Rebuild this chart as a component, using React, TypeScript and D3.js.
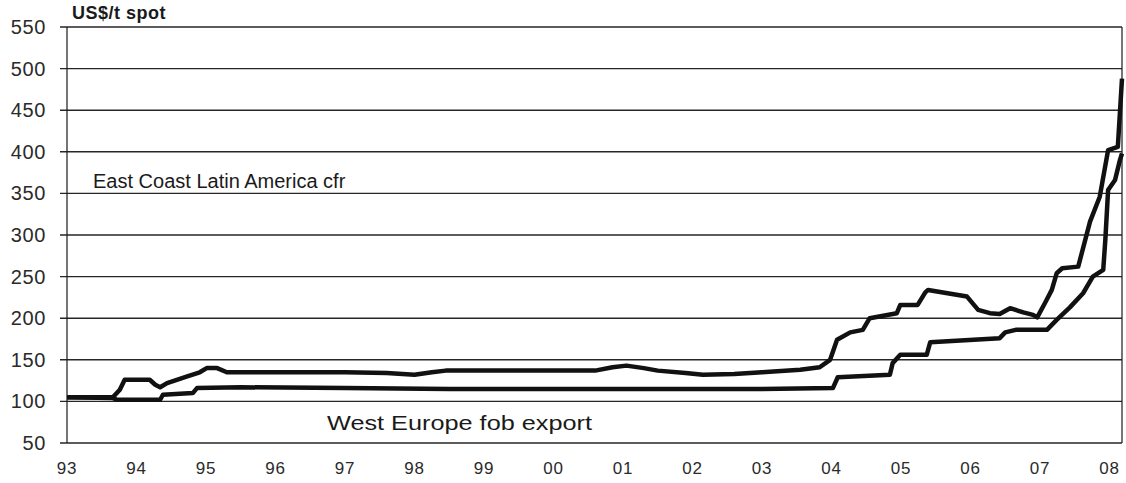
import React from "react";
import * as d3 from "d3";

// year fractions and US$/t values
const eastYears = [
  1993.0, 1993.66, 1993.76, 1993.83, 1994.19, 1994.27, 1994.34, 1994.44, 1994.58, 1994.73,
  1994.91, 1995.01, 1995.16, 1995.3, 1996.0, 1997.0, 1997.6, 1998.0, 1998.25, 1998.45,
  1999.0, 2000.0, 2000.6, 2000.85, 2001.05, 2001.3, 2001.5, 2001.9, 2002.15, 2002.6,
  2003.0, 2003.55, 2003.83, 2003.98, 2004.08, 2004.27, 2004.45, 2004.55, 2004.94, 2004.99,
  2005.24, 2005.35, 2005.39, 2005.95, 2006.11, 2006.28, 2006.42, 2006.57, 2006.76, 2006.9,
  2006.96, 2007.07, 2007.17, 2007.24, 2007.32, 2007.55, 2007.72, 2007.86, 2007.98, 2008.12,
  2008.18,
];
const eastValues = [
  105, 105, 114, 126, 126, 120, 117, 122, 126, 130,
  135, 140, 140, 135, 135, 135, 134, 132, 135, 137,
  137, 137, 137, 141, 143, 140, 137, 134, 132, 133,
  135, 138, 141, 150, 174, 183, 186, 200, 206, 216,
  216, 231, 234, 226, 210, 206, 205, 212, 207, 204,
  201, 218, 234, 254, 260, 262, 316, 346, 402, 406,
  488,
];

const westYears = [
  1993.0, 1993.66, 1993.72, 1994.34, 1994.38, 1994.81, 1994.87, 1995.5, 1997.0, 1998.5,
  2000.0, 2001.5, 2003.0, 2004.02, 2004.09, 2004.84, 2004.88, 2004.99, 2005.37, 2005.42,
  2006.42, 2006.5, 2006.65, 2007.1, 2007.24, 2007.43, 2007.62, 2007.76, 2007.91, 2007.94,
  2007.98, 2008.08, 2008.15, 2008.18,
];
const westValues = [
  105, 104, 102, 102, 108, 110, 116, 117, 116, 115,
  115, 115, 115, 116, 129, 132, 146, 156, 156, 171,
  176, 183, 186, 186, 198, 213, 230, 250, 258, 294,
  354, 366, 390, 398,
];

const yTicks = [50, 100, 150, 200, 250, 300, 350, 400, 450, 500, 550];
const xTickYears = [1993, 1994, 1995, 1996, 1997, 1998, 1999, 2000, 2001, 2002, 2003, 2004, 2005, 2006, 2007, 2008];
const xTickLabels = ["93", "94", "95", "96", "97", "98", "99", "00", "01", "02", "03", "04", "05", "06", "07", "08"];

const unitLabel = "US$/t spot";
const eastLabel = "East Coast Latin America cfr";
const westLabel = "West Europe fob export";

const W = 1126;
const H = 483;
const left = 67;
const right = 1122;
const top = 27;
const bottom = 443;

const font = "'Liberation Sans', Arial, Helvetica, sans-serif";
const ink = "#1a1a1a";

export default function App() {
  const x = d3.scaleLinear().domain([1993, 2008.18]).range([left, right]);
  const y = d3.scaleLinear().domain([50, 550]).range([bottom, top]);

  const line = d3
    .line<[number, number]>()
    .x((d) => x(d[0]))
    .y((d) => y(d[1]));

  const east = eastYears.map((yr, i) => [yr, eastValues[i]] as [number, number]);
  const west = westYears.map((yr, i) => [yr, westValues[i]] as [number, number]);

  return (
    <svg
      width={W}
      height={H}
      style={{ position: "absolute", left: 0, top: 0, background: "#fff" }}
      fontFamily={font}
    >
      {/* gridlines */}
      {yTicks.map((t) => (
        <line key={t} x1={left - 7} x2={right} y1={y(t)} y2={y(t)} stroke="#262626" strokeWidth={1.4} />
      ))}
      <line x1={left} x2={left} y1={top} y2={bottom} stroke={ink} strokeWidth={1.2} />
      <line x1={right} x2={right} y1={top} y2={bottom} stroke={ink} strokeWidth={1.2} />

      {/* y labels */}
      {yTicks.map((t) => (
        <text key={t} x={46} y={y(t) + 7} textAnchor="end" fontSize={20} fill="#2a2a2a" letterSpacing={0.6}>
          {t}
        </text>
      ))}

      {/* x labels */}
      {xTickYears.map((yr, i) => (
        <text key={yr} x={x(yr)} y={474} textAnchor="middle" fontSize={17} fill="#2a2a2a" letterSpacing={0.8}>
          {xTickLabels[i]}
        </text>
      ))}

      <text x={72} y={19} fontSize={18} fontWeight="bold" fill={ink} letterSpacing={0.5}>
        {unitLabel}
      </text>

      {/* series */}
      <path d={line(west) ?? ""} fill="none" stroke="#111" strokeWidth={4.5} strokeLinejoin="round" />
      <path d={line(east) ?? ""} fill="none" stroke="#111" strokeWidth={4.5} strokeLinejoin="round" />

      <text x={93} y={188} fontSize={20} fill={ink}>
        {eastLabel}
      </text>
      <text x={327} y={430} fontSize={21} fill={ink} textLength={265} lengthAdjust="spacingAndGlyphs">
        {westLabel}
      </text>
    </svg>
  );
}
